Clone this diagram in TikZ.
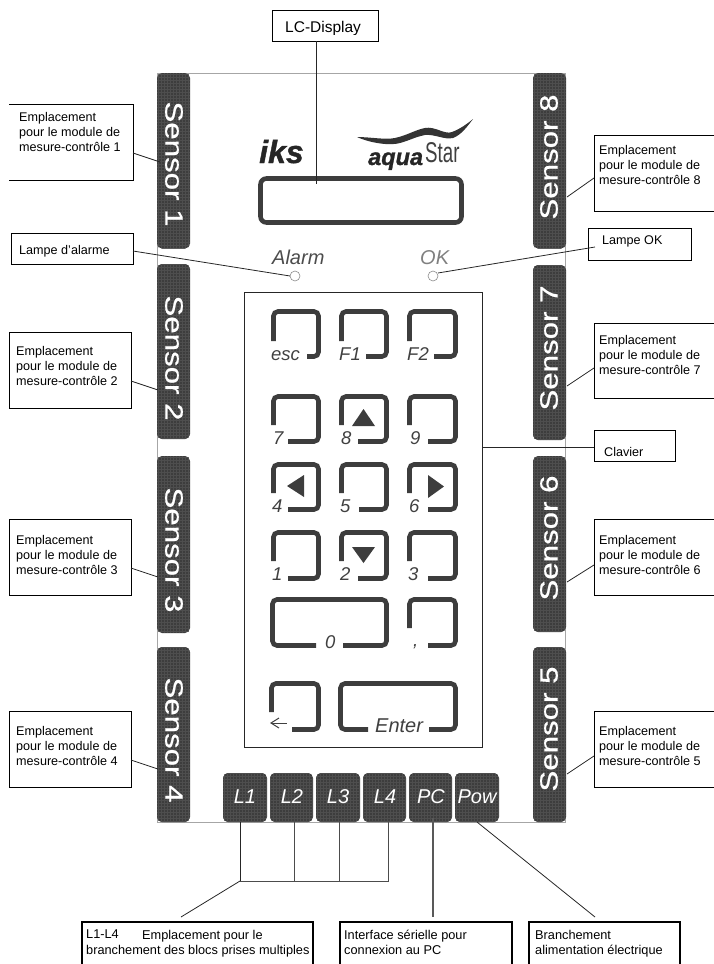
\documentclass[tikz,border=0pt]{standalone}
\usepackage{fontspec}
\setmainfont{Liberation Sans}
\newfontfamily\heavyfont[FakeBold=0.6]{Liberation Sans}
\newfontfamily\heavierfont[FakeBold=1.2,BoldFont={Liberation Sans Bold},ItalicFont={Liberation Sans Bold Italic}]{Liberation Sans Bold}
\usetikzlibrary{calc}
\definecolor{bardark}{HTML}{3D3D3D}
\definecolor{bargrid}{HTML}{4E4E4E}
\definecolor{inkgray}{HTML}{404040}
\tikzset{
  darkbar/.style={fill=bardark,rounded corners=5pt,inner sep=0pt,outer sep=0pt,
    path picture={\draw[bargrid,line width=.5pt] (path picture bounding box.south west) grid[step=3pt] (path picture bounding box.north east);}},
  sensortext/.style={inner sep=0pt,text=white,font=\fontsize{25}{25}\heavyfont\selectfont},
  tabtext/.style={inner sep=0pt,text=white,font=\fontsize{20}{20}\selectfont\itshape},
  lblbox/.style={inner sep=0pt,outer sep=0pt,draw=black,line width=.8pt},
  openbox/.style={inner sep=0pt,outer sep=0pt},
  boxline/.style={draw=black,line width=.8pt},
  thickline/.style={draw=black,line width=1.7pt},
  lbltext/.style={inner sep=0pt,anchor=north west,align=left,font=\fontsize{12.6}{15}\selectfont},
  lowtext/.style={inner sep=0pt,anchor=north west,align=left,font=\fontsize{12.75}{15}\selectfont},
  keytext/.style={inner sep=0pt,anchor=base west,text=inkgray,font=\fontsize{18.5}{18.5}\selectfont\itshape},
  keystroke/.style={draw=bardark,line width=4.6pt,rounded corners=4.5pt},
  wire/.style={draw=black!85,line width=.8pt},
  lamp/.style={circle,draw=black!45,fill=white,line width=.6pt,inner sep=0pt,minimum size=10pt,outer sep=0pt}
}
\newcommand{\keyshape}[6]{\draw[keystroke] ({#1+2.5},#5) -- ({#1+2.5},{#2+2.5}) -- ({#3-2.5},{#2+2.5}) -- ({#3-2.5},{#4-2.5}) -- (#6,{#4-2.5});}
\newcommand{\SensorWord}[1]{\scalebox{1.25}[1]{Sensor #1}}
\begin{document}
\begin{tikzpicture}[x=1pt,y=-1pt]
\useasboundingbox (0,0) rectangle (714,964);
% housing
\draw[black!35,line width=.7pt] (157.5,73.5) rectangle (565.5,822);
% sensor bars
\node (s1) [darkbar,minimum width=33,minimum height=175.5] at (173.5,160.75) {};
\node (s2) [darkbar,minimum width=33,minimum height=175] at (173.5,351.5) {};
\node (s3) [darkbar,minimum width=33,minimum height=177] at (173.5,544.5) {};
\node (s4) [darkbar,minimum width=33,minimum height=175] at (173.5,734.5) {};
\node (s8) [darkbar,minimum width=33,minimum height=175.5] at (549.5,160.75) {};
\node (s7) [darkbar,minimum width=33,minimum height=175] at (549.5,352.5) {};
\node (s6) [darkbar,minimum width=33,minimum height=176] at (549.5,544) {};
\node (s5) [darkbar,minimum width=33,minimum height=175] at (549.5,734.5) {};
\node (s1t) [sensortext,rotate=-90] at (174,164) {\SensorWord{1}};
\node (s2t) [sensortext,rotate=-90] at (174,358) {\SensorWord{2}};
\node (s3t) [sensortext,rotate=-90] at (174,550) {\SensorWord{3}};
\node (s4t) [sensortext,rotate=-90] at (174,740) {\SensorWord{4}};
\node (s8t) [sensortext,rotate=90] at (549,157) {\SensorWord{8}};
\node (s7t) [sensortext,rotate=90] at (549,348) {\SensorWord{7}};
\node (s6t) [sensortext,rotate=90] at (549,538) {\SensorWord{6}};
\node (s5t) [sensortext,rotate=90] at (549,729) {\SensorWord{5}};
% bottom tabs
\node (L1) [darkbar,minimum width=44,minimum height=49] at (245,797.5) {};
\node (L2) [darkbar,minimum width=43,minimum height=49] at (291.5,797.5) {};
\node (L3) [darkbar,minimum width=44,minimum height=49] at (338,797.5) {};
\node (L4) [darkbar,minimum width=43,minimum height=49] at (384.5,797.5) {};
\node (PC) [darkbar,minimum width=43,minimum height=49] at (430.5,797.5) {};
\node (Pow) [darkbar,minimum width=44,minimum height=49] at (477,797.5) {};
\node (L1t) [tabtext] at (245,797) {L1};
\node (L2t) [tabtext] at (292,797) {L2};
\node (L3t) [tabtext] at (338,797) {L3};
\node (L4t) [tabtext] at (385,797) {L4};
\node (PCt) [tabtext] at (431,797) {PC};
\node (Powt) [tabtext] at (477,797) {Pow};
% logos
\node (iks) [inner sep=0pt,anchor=base west,text=black!85,font=\fontsize{32}{32}\selectfont\heavierfont\itshape] at (259,163) {iks};
\fill[black!80] (357,137) .. controls (370,137) and (385,140) .. (395,138) .. controls (408,135) and (415,130) .. (425,128) .. controls (435,126) and (445,135) .. (452,132) .. controls (460,129) and (467,124) .. (473,119) .. controls (467,127) and (461,135) .. (453,138) .. controls (444,140) and (435,134) .. (425,135) .. controls (415,137) and (408,141) .. (400,143) .. controls (390,146) and (370,143) .. (357,137) -- cycle;
\node (aqua) [inner sep=0pt,anchor=base west,text=black!85,font=\fontsize{23.5}{23.5}\selectfont\heavierfont\itshape] at (368,165) {aqua};
\node (star) [inner sep=0pt,anchor=base west,text=inkgray,font=\fontsize{22}{22}\selectfont] at (425,162) {\scalebox{.85}[1.3]{Star}};
% display
\node (dsp) [draw=bardark,line width=4.6pt,rounded corners=6pt,inner sep=0pt,outer sep=0pt,minimum width=201,minimum height=44] at (361,200.5) {};
% lamps
\node (lampA) [lamp] at (295,276) {};
\node (lampO) [lamp] at (433,276) {};
\node (alarm) [inner sep=0pt,anchor=base west,text=black!70,font=\fontsize{20}{20}\selectfont\itshape] at (272,264) {Alarm};
\node (oktxt) [inner sep=0pt,anchor=base west,text=black!50,font=\fontsize{20}{20}\selectfont\itshape] at (420,264) {OK};
% keypad
\node (kp) [draw=black!85,line width=.9pt,inner sep=0pt,outer sep=0pt,minimum width=237.5,minimum height=455] at (363.25,519.5) {};
\keyshape{271}{309}{321}{359}{341}{307}
\keyshape{339}{309}{389}{359}{341}{366}
\keyshape{407}{309}{458}{359}{341}{434}
\keyshape{271}{394}{321}{444}{425}{288}
\keyshape{339}{394}{389}{444}{425}{358}
\keyshape{407}{394}{458}{444}{425}{428}
\keyshape{271}{462}{321}{512}{493}{288}
\keyshape{339}{462}{389}{512}{493}{359}
\keyshape{407}{462}{458}{512}{493}{428}
\keyshape{271}{530}{321}{581}{561}{288}
\keyshape{339}{530}{389}{581}{561}{358}
\keyshape{407}{530}{458}{581}{561}{428}
\keyshape{407}{597}{458}{648}{628}{428}
\keyshape{269}{681}{321}{732}{712}{292}
\draw[keystroke] (316,645.5) -- (272.5,645.5) -- (272.5,599.5) -- (386.5,599.5) -- (386.5,645.5) -- (343,645.5);
\draw[keystroke] (368,729.5) -- (340.5,729.5) -- (340.5,683.5) -- (455.5,683.5) -- (455.5,729.5) -- (429,729.5);
\fill[bardark] (363.5,409) -- (375,426) -- (352,426) -- cycle;
\fill[bardark] (287,486) -- (304,475) -- (304,497) -- cycle;
\fill[bardark] (444,486.5) -- (428,475) -- (428,498) -- cycle;
\fill[bardark] (363.5,563) -- (375,547) -- (352,547) -- cycle;
\node (kesc) [keytext] at (271,360) {esc};
\node (kf1) [keytext] at (339,360) {F1};
\node (kf2) [keytext] at (407,360) {F2};
\node (k7) [keytext] at (273,444) {7};
\node (k8) [keytext] at (341,444) {8};
\node (k9) [keytext] at (410,444) {9};
\node (k4) [keytext] at (272,512) {4};
\node (k5) [keytext] at (340,512) {5};
\node (k6) [keytext] at (409,512) {6};
\node (k1) [keytext] at (272,580) {1};
\node (k2) [keytext] at (340,580) {2};
\node (k3) [keytext] at (408,580) {3};
\node (k0) [keytext] at (325,648) {0};
\node (kc) [keytext] at (413,646) {,};
\node (kent) [keytext,font=\fontsize{20}{20}\selectfont\itshape] at (375,732) {Enter};
\draw[inkgray,line width=1pt] (271,723) -- (287,723);
\draw[inkgray,line width=1pt] (279,718) -- (271,723) -- (279,728);
% label boxes
\node (lc) [lblbox,minimum width=106,minimum height=31] at (325,25.5) {};
\begin{scope}
\clip (272,10) rectangle (378,34);
\node (lct) [inner sep=0pt,anchor=base west,font=\fontsize{15.5}{15.5}\selectfont] at (285,32.5) {LC-Display};
\end{scope}
\node (b1) [openbox,minimum width=124,minimum height=76] at (71,142) {};
\draw[boxline] (b1.north west) -- (b1.north east) -- (b1.south east) -- (b1.south west);
\node (b2) [lblbox,minimum width=121.5,minimum height=76] at (70.25,370) {};
\node (b3) [lblbox,minimum width=121.5,minimum height=76] at (70.25,557) {};
\node (b4) [lblbox,minimum width=121.5,minimum height=76] at (70.25,749) {};
\node (ba) [lblbox,minimum width=122,minimum height=31] at (72,248.5) {};
\node (b8) [openbox,minimum width=120,minimum height=76] at (654,173) {};
\draw[boxline] (b8.north east) -- (b8.north west) -- (b8.south west) -- (b8.south east);
\node (b7) [openbox,minimum width=120,minimum height=75] at (654,360.5) {};
\draw[boxline] (b7.north east) -- (b7.north west) -- (b7.south west) -- (b7.south east);
\node (b6) [openbox,minimum width=120,minimum height=76] at (654,557) {};
\draw[boxline] (b6.north east) -- (b6.north west) -- (b6.south west) -- (b6.south east);
\node (b5) [openbox,minimum width=120,minimum height=76] at (654,749) {};
\draw[boxline] (b5.north east) -- (b5.north west) -- (b5.south west) -- (b5.south east);
\node (bok) [lblbox,minimum width=103,minimum height=32] at (639.5,244) {};
\node (bcl) [lblbox,minimum width=81,minimum height=31] at (634.5,445.5) {};
\node (bL) [openbox,minimum width=231,minimum height=42] at (197.5,943) {};
\draw[thickline] (bL.south west) -- (bL.north west) -- (bL.north east) -- (bL.south east);
\node (bP) [openbox,minimum width=172,minimum height=42] at (426,943) {};
\draw[thickline] (bP.south west) -- (bP.north west) -- (bP.north east) -- (bP.south east);
\node (bB) [openbox,minimum width=151,minimum height=42] at (604.5,943) {};
\draw[thickline] (bB.south west) -- (bB.north west) -- (bB.north east) -- (bB.south east);
% label texts
\node (t1) [lbltext] at (19,112) {Emplacement\\pour le module de\\mesure-contrôle 1};
\node (t2) [lbltext] at (16,346) {Emplacement\\pour le module de\\mesure-contrôle 2};
\node (t3) [lbltext] at (16,535) {Emplacement\\pour le module de\\mesure-contrôle 3};
\node (t4) [lbltext] at (16,726) {Emplacement\\pour le module de\\mesure-contrôle 4};
\node (t8) [lbltext] at (599,145) {Emplacement\\pour le module de\\mesure-contrôle 8};
\node (t7) [lbltext] at (599,335) {Emplacement\\pour le module de\\mesure-contrôle 7};
\node (t6) [lbltext] at (599,535) {Emplacement\\pour le module de\\mesure-contrôle 6};
\node (t5) [lbltext] at (599,726) {Emplacement\\pour le module de\\mesure-contrôle 5};
\node (ta) [lbltext] at (19,245) {Lampe d'alarme};
\node (tok) [lbltext] at (602,235) {Lampe OK};
\node (tcl) [lbltext] at (604,447) {Clavier};
\node (tL1) [lowtext] at (86,930) {L1-L4};
\node (tL2) [lowtext] at (142,930) {Emplacement pour le};
\node (tL3) [lowtext] at (86,945) {branchement des blocs prises multiples};
\node (tP) [lowtext] at (344,930) {Interface sérielle pour\\connexion au PC};
\node (tB) [lowtext] at (535,930) {Branchement\\alimentation électrique};
% connectors
\draw[wire] ([xshift=-9pt]lc.south) -- ([xshift=-45pt,yshift=-5.5pt]dsp.north);
\draw[wire] ([yshift=-11pt]b1.east) -- ([xshift=3pt,yshift=-1.25pt]s1.west);
\draw[wire] ([yshift=-11pt]b2.east) -- ([xshift=1pt,yshift=-38.5pt]s2.west);
\draw[wire] ([yshift=-11pt]b3.east) -- ([xshift=1pt,yshift=-32.5pt]s3.west);
\draw[wire] ([yshift=-11pt]b4.east) -- ([xshift=1pt,yshift=-34.5pt]s4.west);
\draw[wire] ([yshift=-5pt]b8.west) -- ([xshift=1pt,yshift=-36.25pt]s8.east);
\draw[wire] ([yshift=-7.5pt]b7.west) -- ([xshift=1pt,yshift=-33.5pt]s7.east);
\draw[wire] ([yshift=-8pt]b6.west) -- ([xshift=1pt,yshift=-38pt]s6.east);
\draw[wire] ([yshift=-7pt]b5.west) -- ([xshift=1pt,yshift=-39.5pt]s5.east);
\draw[wire] ([yshift=-2.5pt]ba.east) -- (lampA.west);
\draw[wire] ([xshift=7pt,yshift=-3pt]bok.west) -- ([yshift=3pt]lampO.east);
\draw[wire] ([yshift=72.5pt]kp.east) -- ([yshift=-1.5pt]bcl.west);
\coordinate (j) at (240,881);
\draw[wire] ([xshift=-5pt]L1.south) -- (j);
\draw[wire,black!70] ([xshift=2.5pt]L2.south) |- (j);
\draw[wire,black!70] ([xshift=1pt]L3.south) |- (j);
\draw[wire,black!70] ([xshift=3.5pt]L4.south) |- (j);
\draw[wire] (j) -- ([xshift=-16.5pt,yshift=5pt]bL.north);
\draw[black!65,line width=1.2pt] ([xshift=2.5pt,yshift=4pt]PC.south) -- ([xshift=7pt,yshift=5pt]bP.north);
\draw[wire] (Pow.south) -- ([xshift=-9.5pt,yshift=5pt]bB.north);
\end{tikzpicture}
\end{document}
